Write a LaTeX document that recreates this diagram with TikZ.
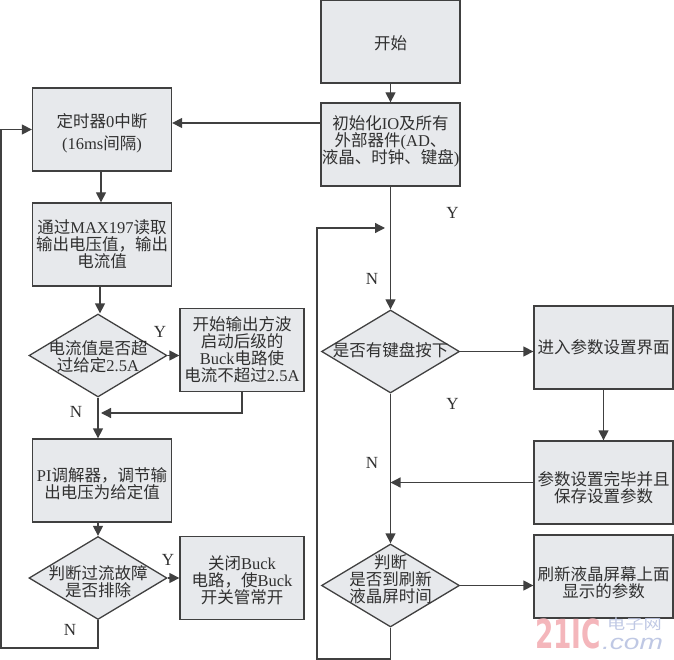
\documentclass[tikz,border=0pt]{standalone}
\usepackage{fontspec}
\setmainfont{Noto Sans CJK SC}
\newfontfamily\enfont{Liberation Serif}
\newfontfamily\logofont{Liberation Sans}
\newfontfamily\heavyfont{DejaVu Sans}
\newcommand{\en}[1]{{\enfont #1}}
\newcommand{\boxfont}{\fontsize{16.5}{17}\selectfont\lineskiplimit -8pt\relax}
\usetikzlibrary{shapes, arrows.meta, positioning}
\definecolor{boxfill}{HTML}{E7E9EC}
\definecolor{inkline}{HTML}{404040}
\definecolor{inktext}{HTML}{303030}
\definecolor{logored}{HTML}{F4B6BB}
\definecolor{logoblue}{HTML}{BFC8E4}
\tikzstyle{block} = [draw=inkline, fill=boxfill, rectangle, line width=1.3pt, text=inktext, align=center, minimum width=139pt, minimum height=83pt, inner sep=0pt, font=\boxfont]
\tikzstyle{small} = [block, minimum width=124pt]
\tikzstyle{decision} = [draw=inkline, fill=boxfill, diamond, line width=1.3pt, aspect=1.66, inner sep=0pt, minimum width=138pt, minimum height=83pt]
\tikzstyle{inside} = [text=inktext, align=center, inner sep=0pt, font=\boxfont]
\tikzstyle{tag} = [text=inktext, inner sep=0pt, font=\enfont\fontsize{17}{17}\selectfont]
\tikzstyle{flow} = [draw=inkline, line width=1.3pt]

\begin{document}
\begin{tikzpicture}[x=1pt,y=-1pt,auto,node distance=20pt,>={Triangle[length=10pt,width=10pt]}]
  \useasboundingbox (0,0) rectangle (674,660);
  % right column
  \node [block, label={[inside,yshift=-2pt]center:开始}] (start) at (390.5,41.5) {};
  \node [block, below of=start, node distance=103pt, label={[inside,yshift=3pt]center:初始化\en{IO}及所有\\外部器件\en{(AD}、\\液晶、时钟、键盘\en{)}}] (init) {};
  \node [decision, below of=init, node distance=207pt, label={[inside,yshift=1.5pt]center:是否有键盘按下}] (keydown) {};
  \node [decision, below of=keydown, node distance=234pt, label={[inside,yshift=6pt]center:判断\\是否到刷新\\液晶屏时间}] (refreshq) {};
  \node [block, right of=keydown, node distance=213pt, yshift=4pt] (param) {进入参数设置界面};
  \node [block, below of=param, node distance=135pt, label={[inside,yshift=-5pt]center:参数设置完毕并且\\保存设置参数}] (save) {};
  \node [block, below of=save, node distance=94pt, label={[inside,yshift=-6pt]center:刷新液晶屏幕上面\\显示的参数}] (refresh) {};
  % left column
  \node [block, left of=init, node distance=288.5pt, yshift=15pt, label={[inside,yshift=-4pt]center:定时器\en{0}中断\\[5pt]\en{(16ms}间隔\en{)}}] (timer) {};
  \node [block, below of=timer, node distance=115pt] (read) {通过\en{MAX197}读取\\输出电压值，输出\\电流值};
  \node [decision, below of=read, node distance=111pt, xshift=-4pt, label={[inside,yshift=-1pt]center:电流值是否超\\过给定\en{2.5A}}] (over) {};
  \node [small, right of=over, node distance=144pt, yshift=5.5pt] (buck) {开始输出方波\\启动后级的\\\en{Buck}电路使\\电流不超过\en{2.5A}};
  \node [block, below of=read, node distance=236pt, label={[inside,yshift=-3pt]center:\en{PI}调解器，调节输\\出电压为给定值}] (pireg) {};
  \node [decision, below of=pireg, node distance=97.5pt, xshift=-4pt, label={[inside,yshift=-4pt]center:判断过流故障\\是否排除}] (fault) {};
  \node [small, right of=fault, node distance=144pt, label={[inside,yshift=-2pt]center:关闭\en{Buck}\\电路，使\en{Buck}\\开关管常开}] (close) {};
  % free ends of the connectors
  \coordinate [below of=over, node distance=57.5pt, xshift=3pt] (merge);
  \coordinate (loopleft) at (1,648);
  \coordinate (loopright) at (317,659);
  \coordinate (entry) at (385,228);
  % connectors
  \draw [flow, ->] (start) -- (init);
  \draw [flow, ->] ([yshift=21.5pt]init.west) -- ([yshift=6.5pt]timer.east);
  \draw [flow, ->] (init) -- (keydown);
  \draw [flow, ->] (keydown.east) -- (keydown.east -| param.west);
  \draw [flow, ->] (param) -- (save);
  \draw [flow, ->] (save.west) -- (save.west -| keydown.south);
  \draw [flow, ->] (keydown) -- (refreshq);
  \draw [flow, ->] (refreshq.east) -- (refreshq.east -| refresh.west);
  \draw [flow, ->] (refreshq.south) |- (loopright) |- (entry);
  \draw [flow, ->] ([xshift=-1pt]timer.south) -- ([xshift=-1pt]read.north);
  \draw [flow, ->] ([xshift=-2pt]read.south) -- ([xshift=2pt]over.north);
  \draw [flow, ->] (over.east) -- (over.east -| buck.west);
  \draw [flow, ->] (buck.south) |- (merge);
  \draw [flow, ->] (over.south) -- (over.south |- pireg.north);
  \draw [flow, ->] ([xshift=-4pt]pireg.south) -- (fault.north);
  \draw [flow, ->] (fault.east) -- (fault.east -| close.west);
  \draw [flow, ->] (fault.south) |- (loopleft) |- (timer.west);
  % branch letters
  \node [tag, above of=over, node distance=24pt, xshift=62pt] (overyes) {Y};
  \node [tag, below of=over, node distance=56.5pt, xshift=-22pt] (overno) {N};
  \node [tag, above of=fault, node distance=18pt, xshift=70pt] (faultyes) {Y};
  \node [tag, below of=fault, node distance=52pt, xshift=-28pt] (faultno) {N};
  \node [tag, below of=init, node distance=68.5pt, xshift=62pt] (inityes) {Y};
  \node [tag, below of=init, node distance=134.5pt, xshift=-18.5pt] (initno) {N};
  \node [tag, below of=keydown, node distance=52.5pt, xshift=62pt] (keyyes) {Y};
  \node [tag, below of=keydown, node distance=111.5pt, xshift=-18.5pt] (keyno) {N};
  % site mark
  \node [text=logored, inner sep=0pt, font=\heavyfont\bfseries\fontsize{40}{40}\selectfont, below of=refresh, node distance=57pt, xshift=-35.5pt, xscale=.66, transform shape] (logoa) {21IC};
  \node [text=logoblue, inner sep=0pt, font=\fontsize{14}{14}\selectfont, below of=refresh, node distance=47.5pt, xshift=31pt, xscale=1.3, transform shape] (logob) {电子网};
  \node [text=logoblue, inner sep=0pt, font=\logofont\itshape\fontsize{21}{21}\selectfont, below of=refresh, node distance=67pt, xshift=29pt, xscale=1.34, transform shape] (logoc) {.com};
\end{tikzpicture}
\end{document}
